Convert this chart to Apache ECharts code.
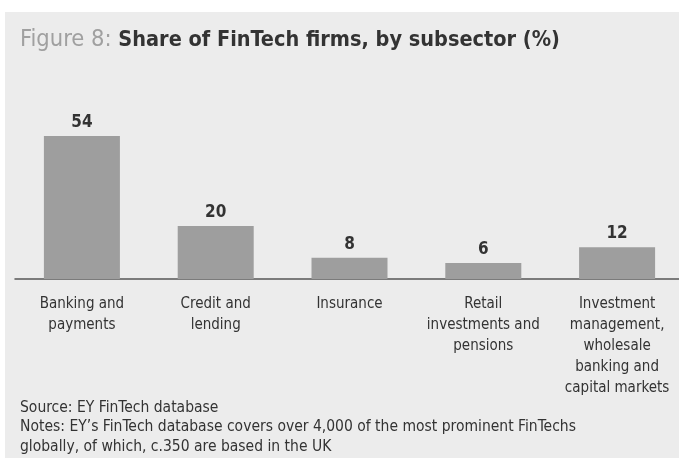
<!DOCTYPE html>
<html>
<head>
<meta charset="utf-8">
<script src="https://cdn.jsdelivr.net/npm/echarts@6/dist/echarts.min.js"></script>
<style>
  html, body { margin: 0; padding: 0; background: #ffffff; overflow: hidden; }
  #chart { position: absolute; left: 0; top: 0; width: 679px; height: 458px; }
</style>
</head>
<body>
<div id="chart"></div>
<script>
// Share of FinTech firms by subsector (%)
const categories = [
  'Banking and\npayments',
  'Credit and\nlending',
  'Insurance',
  'Retail\ninvestments and\npensions',
  'Investment\nmanagement,\nwholesale\nbanking and\ncapital markets'
];
const shares = [54, 20, 8, 6, 12];

const titleLead = 'Figure 8: ';
const titleMain = 'Share of FinTech firms, by subsector (%)';
const sourceLines = [
  'Source: EY FinTech database',
  'Notes: EY\u2019s FinTech database covers over 4,000 of the most prominent FinTechs',
  'globally, of which, c.350 are based in the UK'
];

const FONT = '"DejaVu Sans Condensed", "Liberation Sans Narrow", Roboto, sans-serif';

const chart = echarts.init(document.getElementById('chart'), null, { renderer: 'canvas' });

chart.setOption({
  backgroundColor: 'transparent',
  animation: false,
  textStyle: { fontFamily: FONT },
  graphic: [
    {
      type: 'rect',
      z: -10,
      silent: true,
      shape: { x: 5, y: 12, width: 700, height: 460 },
      style: { fill: '#ececec' }
    },
    {
      type: 'text',
      left: 20,
      top: 28,
      style: {
        rich: {
          lead: { fontFamily: FONT, fontSize: 23.5, fill: '#a0a0a0', fontWeight: 'normal' },
          main: { fontFamily: FONT, fontSize: 21.5, fill: '#333333', fontWeight: 'bold' }
        },
        text: '{lead|' + titleLead + '}{main|' + titleMain + '}'
      }
    },
    {
      type: 'text',
      left: 20,
      top: 398,
      style: {
        text: sourceLines.join('\n'),
        fontFamily: FONT,
        fontSize: 15.5,
        lineHeight: 19.5,
        fill: '#333333'
      }
    }
  ],
  grid: {
    left: 15,
    width: 669,
    top: 120,
    height: 159,
    outerBoundsMode: 'none'
  },
  xAxis: {
    type: 'category',
    data: categories,
    axisLine: { show: true, lineStyle: { color: '#555555', width: 1.5 } },
    axisTick: { show: false },
    axisLabel: {
      interval: 0,
      margin: 15,
      fontFamily: FONT,
      fontSize: 15,
      lineHeight: 21,
      color: '#333333',
      align: 'center'
    }
  },
  yAxis: {
    type: 'value',
    min: 0,
    max: 60,
    show: false,
    splitLine: { show: false }
  },
  series: [
    {
      type: 'bar',
      data: shares,
      barWidth: 76,
      itemStyle: { color: '#9e9e9e' },
      label: {
        show: true,
        position: 'top',
        distance: 5,
        fontFamily: FONT,
        fontSize: 17,
        fontWeight: 'bold',
        color: '#333333'
      }
    }
  ]
});
</script>
</body>
</html>
